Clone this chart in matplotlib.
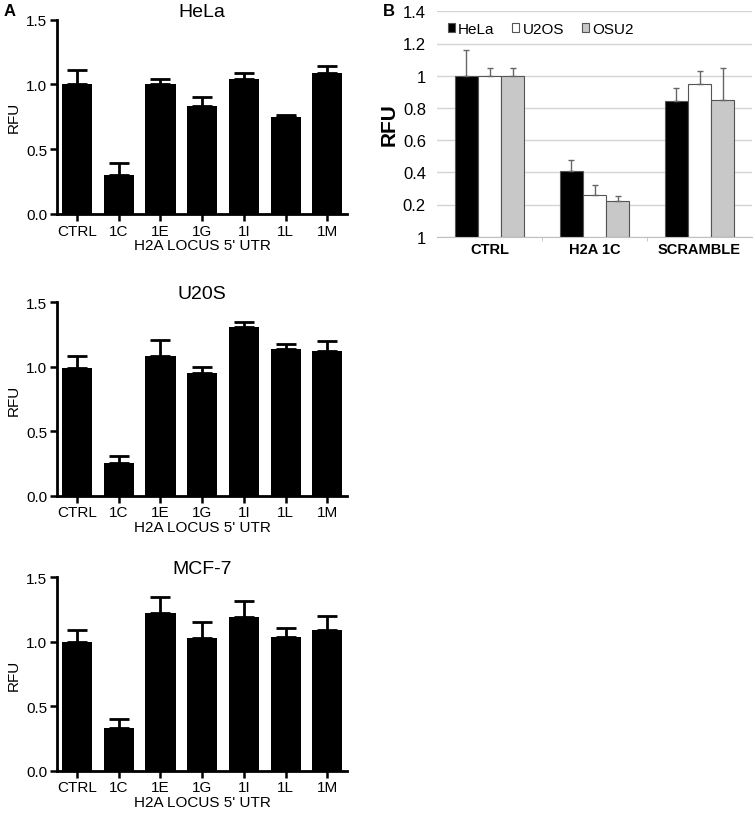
import matplotlib
matplotlib.use("Agg")
import matplotlib.pyplot as plt
import numpy as np

plt.rcParams['font.family'] = ['Liberation Sans', 'DejaVu Sans']

# ---- Panel A data ----
cats_a = ['CTRL', '1C', '1E', '1G', '1I', '1L', '1M']
hela = [1.00, 0.30, 1.00, 0.83, 1.04, 0.75, 1.09]
hela_err = [0.11, 0.09, 0.04, 0.07, 0.05, 0.015, 0.05]
u20s = [0.99, 0.25, 1.08, 0.95, 1.31, 1.14, 1.12]
u20s_err = [0.09, 0.06, 0.13, 0.05, 0.04, 0.04, 0.08]
mcf7 = [1.00, 0.33, 1.22, 1.03, 1.19, 1.04, 1.09]
mcf7_err = [0.09, 0.07, 0.13, 0.12, 0.13, 0.07, 0.11]
titles_a = ['HeLa', 'U20S', 'MCF-7']
xlabel_a = "H2A LOCUS 5' UTR"

# ---- Panel B data ----
groups_b = ['CTRL', 'H2A 1C', 'SCRAMBLE']
series_b = ['HeLa', 'U2OS', 'OSU2']
hela_b = [1.00, 0.41, 0.84]
hela_b_err = [0.16, 0.065, 0.085]
u2os_b = [1.00, 0.26, 0.95]
u2os_b_err = [0.045, 0.06, 0.08]
osu2_b = [1.00, 0.22, 0.85]
osu2_b_err = [0.05, 0.035, 0.20]
yticks_b = [0, 0.2, 0.4, 0.6, 0.8, 1.0, 1.2, 1.4]
ytick_labels_b = ['1', '0.2', '0.4', '0.6', '0.8', '1', '1.2', '1.4']

W, H = 755, 820
fig = plt.figure(figsize=(W / 100, H / 100), dpi=100)


def px_axes(left, top, right, bottom):
    return fig.add_axes([left / W, 1 - bottom / H, (right - left) / W, (bottom - top) / H])


# Panel A
tops = [20.7, 303.3, 578.3]
bottoms = [215, 496.7, 771.7]
data_a = [(hela, hela_err), (u20s, u20s_err), (mcf7, mcf7_err)]
x = np.arange(len(cats_a))
for (vals, errs), title, t, b in zip(data_a, titles_a, tops, bottoms):
    ax = px_axes(57, t, 347, b)
    ax.bar(x, vals, width=0.72, color='black', zorder=2)
    ax.errorbar(x, vals, yerr=[np.zeros(len(vals)), errs], fmt='none',
                ecolor='black', elinewidth=2, capsize=7, capthick=2, zorder=1)
    ax.set_xlim(-0.48, 6.47)
    ax.set_ylim(0, 1.5)
    ax.set_yticks([0, 0.5, 1.0, 1.5])
    ax.set_yticklabels(['0.0', '0.5', '1.0', '1.5'])
    ax.set_xticks(x)
    ax.set_xticklabels(cats_a)
    for s in ['top', 'right']:
        ax.spines[s].set_visible(False)
    for s in ['left', 'bottom']:
        ax.spines[s].set_linewidth(2)
    ax.tick_params(axis='both', width=1.8, length=5, labelsize=11, pad=2)
    ax.set_title(title, fontsize=14, pad=3)
    ax.set_ylabel('RFU', fontsize=11, labelpad=4)
    ax.set_xlabel(xlabel_a, fontsize=11, labelpad=0.5)

fig.text(4 / W, 1 - 12 / H, 'A', fontsize=12, fontweight='bold', va='center')

# Panel B
axb = px_axes(437, 12.3, 752, 237.7)
xb = np.arange(len(groups_b))
bw = 0.222
colors = ['black', 'white', '#c8c8c8']
vals_b = [(hela_b, hela_b_err), (u2os_b, u2os_b_err), (osu2_b, osu2_b_err)]
for i, ((v, e), name, c) in enumerate(zip(vals_b, series_b, colors)):
    pos = xb + (i - 1) * bw
    axb.bar(pos, v, width=bw, color=c, edgecolor='#555555', linewidth=0.8,
            label=name, zorder=2)
    axb.errorbar(pos, v, yerr=[np.zeros(len(v)), e], fmt='none', ecolor='#666666',
                 elinewidth=1, capsize=2.5, capthick=1, zorder=3)
axb.set_xlim(-0.5, 2.5)
axb.set_ylim(0, 1.4)
axb.set_yticks(yticks_b)
axb.set_yticklabels(ytick_labels_b)
axb.yaxis.grid(True, color='#d4d4d4', linewidth=1)
axb.set_axisbelow(True)
axb.set_xticks(xb)
axb.set_xticklabels(groups_b, fontweight='bold', fontsize=10.5)
axb.set_xticks([0.5, 1.5], minor=True)
axb.tick_params(axis='x', which='major', length=0, pad=4)
axb.tick_params(axis='x', which='minor', length=3, color='#c0c0c0')
axb.tick_params(axis='y', length=0, labelsize=12, pad=8)
for s in ['top', 'right', 'left']:
    axb.spines[s].set_visible(False)
axb.spines['bottom'].set_color('#c0c0c0')
axb.set_ylabel('RFU', fontsize=15, fontweight='bold', labelpad=3)
leg = axb.legend(loc='upper left', bbox_to_anchor=(0.0, 1.0), ncol=3, frameon=False,
                 fontsize=11, handlelength=0.45, handleheight=0.45, handletextpad=0.2,
                 columnspacing=1.2, borderaxespad=0.3)
fig.text(383 / W, 1 - 12 / H, 'B', fontsize=12, fontweight='bold', va='center')

fig.savefig('out.png', dpi=100)
